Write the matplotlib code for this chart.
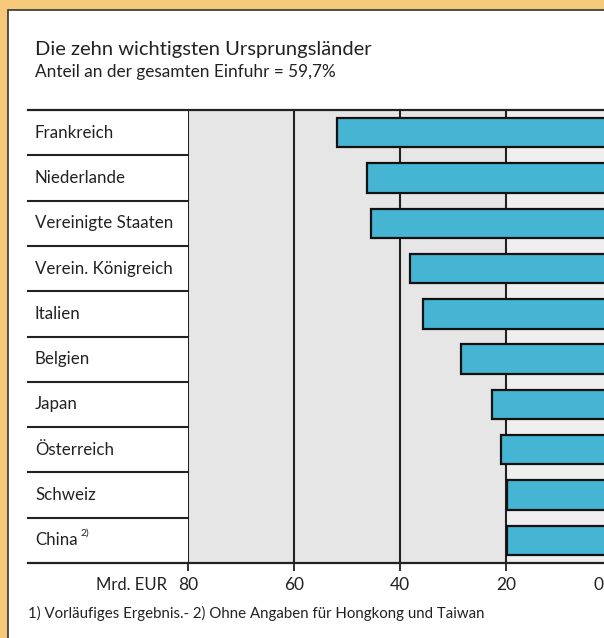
import matplotlib
matplotlib.use("Agg")
import matplotlib.pyplot as plt
from matplotlib.patches import Rectangle
from matplotlib.transforms import blended_transform_factory

# Daten (Mrd. EUR)
laender = ["Frankreich", "Niederlande", "Vereinigte Staaten", "Verein. Königreich",
           "Italien", "Belgien", "Japan", "Österreich", "Schweiz", "China"]
werte = [51.8, 46.3, 45.5, 38.2, 35.7, 28.5, 22.6, 20.9, 19.9, 19.8]
ticks = [80, 60, 40, 20]
tick_labels = ["80", "60", "40", "20"]

plt.rcParams['font.family'] = ['Lato', 'DejaVu Sans']

W, H = 604, 638
fig = plt.figure(figsize=(W / 100, H / 100), dpi=100)
fig.patch.set_facecolor("#f6c87a")

# weisses Feld mit Rahmen
fig.patches.append(Rectangle((8 / W, -0.1), 1.2, 1 - 10 / H + 0.1, transform=fig.transFigure,
                             facecolor="white", edgecolor="#333333", linewidth=1.2,
                             zorder=-10))

# Achse: 80 -> x=188 px, 0 -> x=612 px, oben y=110, unten y=563
ax = fig.add_axes([188 / W, (H - 563) / H, (612 - 188) / W, (563 - 110) / H])
ax.set_zorder(1)
ax.set_xlim(80, 0)
ax.set_ylim(len(laender) - 0.5, -0.5)
ax.set_facecolor("#e6e6e6")
ax.axvspan(20, 0, color="#efefef", zorder=0)

for s in ax.spines.values():
    s.set_visible(False)

for t in ticks + [0]:
    ax.axvline(t, color="#222222", linewidth=1.5, zorder=1)

y = list(range(len(laender)))
ax.barh(y, werte, height=0.65, color="#45b5d3", edgecolor="#111111",
        linewidth=1.6, zorder=3)

ax.set_yticks([])
ax.set_xticks(ticks)
ax.set_xticklabels(tick_labels, fontsize=12.5, color="#222222")
ax.tick_params(axis="x", length=6, width=1.3, color="#222222", pad=4)
# Beschriftung "0" liegt am rechten Bildrand (im Original angeschnitten)
fig.text(1.0, 1 - 585 / H, "0", fontsize=12.5, color="#222222", ha="right", va="center")

# Trennlinien in der Beschriftungsspalte
tr = blended_transform_factory(fig.transFigure, ax.transData)
for i in range(len(laender) - 1):
    ax.plot([28 / W, 188 / W], [i + 0.5, i + 0.5], transform=tr, color="#222222",
            linewidth=1.5, clip_on=False, zorder=5)
for yy in [-0.5, len(laender) - 0.5]:
    ax.plot([28 / W, 1.05], [yy, yy], transform=tr, color="#222222",
            linewidth=1.6, clip_on=False, zorder=5)

for i, name in enumerate(laender):
    ax.text(35 / W, i, name, transform=tr, fontsize=12.2, color="#222222",
            va="center", ha="left")
ax.text(80 / W, 9 - 0.15, "2)", transform=tr, fontsize=7.5, color="#222222",
        va="center", ha="left")

fig.text(167 / W, 1 - 585 / H, "Mrd. EUR", fontsize=12, color="#222222",
         ha="right", va="center")

fig.text(35 / W, 1 - 50 / H, "Die zehn wichtigsten Ursprungsländer", fontsize=14.5,
         color="#222222", ha="left", va="center")
fig.text(35 / W, 1 - 72 / H, "Anteil an der gesamten Einfuhr = 59,7%", fontsize=12.4,
         color="#222222", ha="left", va="center")
fig.text(28 / W, 1 - 613 / H,
         "1) Vorläufiges Ergebnis.- 2) Ohne Angaben für Hongkong und Taiwan",
         fontsize=10.85, color="#222222", ha="left", va="center")

fig.savefig("out.png", dpi=100, facecolor=fig.get_facecolor())
